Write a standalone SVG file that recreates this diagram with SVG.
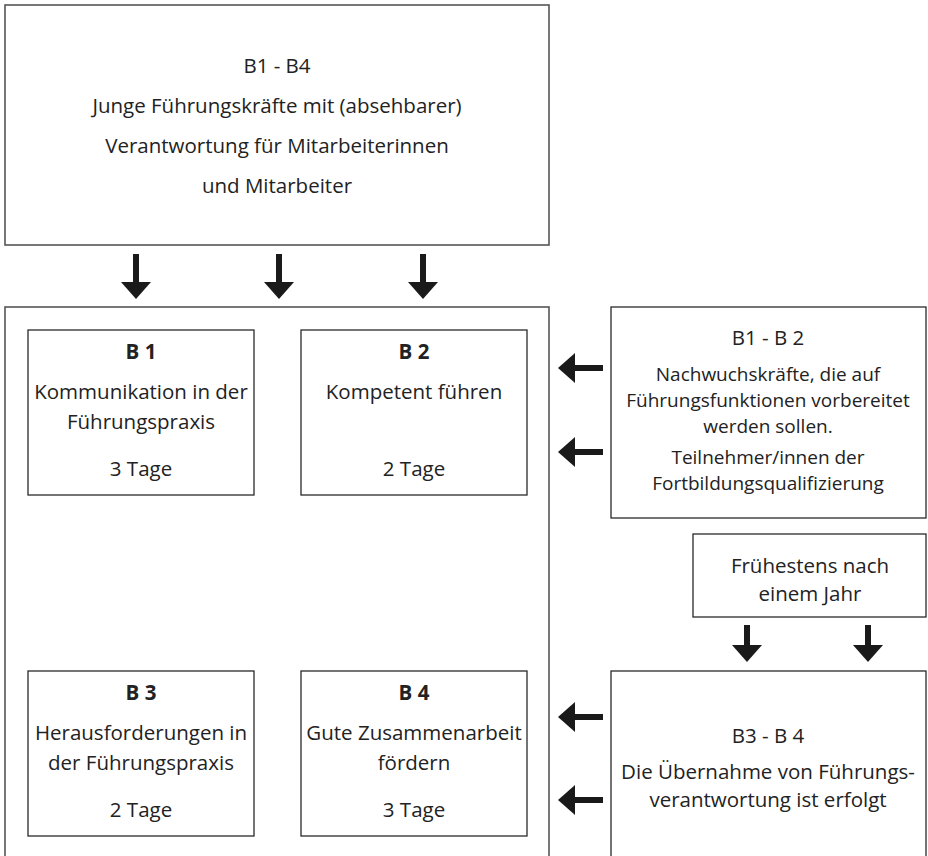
<svg xmlns="http://www.w3.org/2000/svg" width="928" height="856" viewBox="0 0 928 856">
<style>
.outer{fill:#fff;stroke:#555;stroke-width:1.6}
.box{fill:#fff;stroke:#2a2a2a;stroke-width:1.3}
text{font-family:"Open Sans","Noto Sans","DejaVu Sans",sans-serif;font-size:20.5px;fill:#222;text-anchor:middle}
.b{font-weight:bold}
.s{font-size:19px}
.arr{stroke:#1a1a1a;stroke-width:6;fill:none}
</style>
<defs>
<marker id="ah" viewBox="0 0 17 30" refX="1" refY="15" markerWidth="17" markerHeight="30" markerUnits="userSpaceOnUse" orient="auto">
<path d="M0,0 L17,15 L0,30 z" fill="#1a1a1a"/>
</marker>
</defs>
<rect width="928" height="856" fill="#fff"/>
<g id="top">
<rect class="outer" x="5" y="5" width="544" height="240"/>
<text x="277" y="73">B1 - B4</text>
<text x="277" y="113">Junge Führungskräfte mit (absehbarer)</text>
<text x="277" y="153">Verantwortung für Mitarbeiterinnen</text>
<text x="277" y="193">und Mitarbeiter</text>
</g>
<g id="container">
<rect class="outer" x="5" y="307" width="544" height="570"/>
</g>
<g id="b1">
<rect class="box" x="28" y="330" width="226" height="165"/>
<text class="b" x="141" y="359">B 1</text>
<text x="141" y="399">Kommunikation in der</text>
<text x="141" y="429">Führungspraxis</text>
<text x="141" y="476">3 Tage</text>
</g>
<g id="b2">
<rect class="box" x="301" y="330" width="226" height="165"/>
<text class="b" x="414" y="359">B 2</text>
<text x="414" y="399">Kompetent führen</text>
<text x="414" y="476">2 Tage</text>
</g>
<g id="b3">
<rect class="box" x="28" y="671" width="226" height="165"/>
<text class="b" x="141" y="700">B 3</text>
<text x="141" y="740">Herausforderungen in</text>
<text x="141" y="770">der Führungspraxis</text>
<text x="141" y="817">2 Tage</text>
</g>
<g id="b4">
<rect class="box" x="301" y="671" width="226" height="165"/>
<text class="b" x="414" y="700">B 4</text>
<text x="414" y="740">Gute Zusammenarbeit</text>
<text x="414" y="770">fördern</text>
<text x="414" y="817">3 Tage</text>
</g>
<g id="b12">
<rect class="box" x="611" y="307" width="315" height="211"/>
<text x="768" y="345">B1 - B 2</text>
<text class="s" x="768" y="381">Nachwuchskräfte, die auf</text>
<text class="s" x="768" y="407">Führungsfunktionen vorbereitet</text>
<text class="s" x="768" y="433">werden sollen.</text>
<text class="s" x="768" y="464">Teilnehmer/innen der</text>
<text class="s" x="768" y="490">Fortbildungsqualifizierung</text>
</g>
<g id="fruehestens">
<rect class="box" x="693" y="534" width="233" height="83"/>
<text x="810" y="573">Frühestens nach</text>
<text x="810" y="601">einem Jahr</text>
</g>
<g id="b34">
<rect class="box" x="611" y="671" width="315" height="200"/>
<text x="768" y="743">B3 - B 4</text>
<text x="768" y="779">Die Übernahme von Führungs-</text>
<text x="768" y="807">verantwortung ist erfolgt</text>
</g>
<g id="connectors">
<line class="arr" x1="136" y1="254" x2="136" y2="283" marker-end="url(#ah)"/>
<line class="arr" x1="279" y1="254" x2="279" y2="283" marker-end="url(#ah)"/>
<line class="arr" x1="423" y1="254" x2="423" y2="283" marker-end="url(#ah)"/>
<line class="arr" x1="603" y1="368" x2="574" y2="368" marker-end="url(#ah)"/>
<line class="arr" x1="603" y1="452" x2="574" y2="452" marker-end="url(#ah)"/>
<line class="arr" x1="747" y1="625" x2="747" y2="646" marker-end="url(#ah)"/>
<line class="arr" x1="868" y1="625" x2="868" y2="646" marker-end="url(#ah)"/>
<line class="arr" x1="603" y1="717" x2="574" y2="717" marker-end="url(#ah)"/>
<line class="arr" x1="603" y1="800" x2="574" y2="800" marker-end="url(#ah)"/>
</g>
</svg>
